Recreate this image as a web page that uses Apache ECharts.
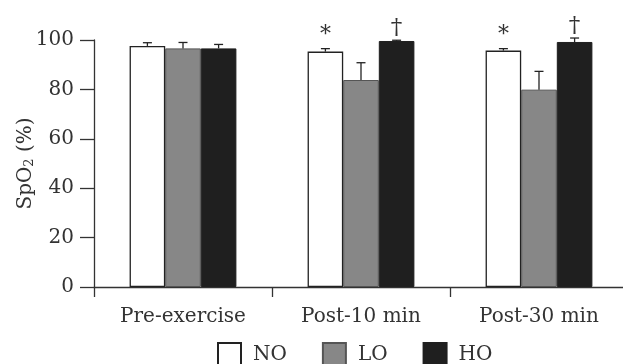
<!DOCTYPE html>
<html>
<head>
<meta charset="utf-8">
<script src="https://cdn.jsdelivr.net/npm/echarts@6/dist/echarts.min.js"></script>
<style>
html,body{margin:0;padding:0;background:#fff;}
#chart{width:623px;height:364px;}
</style>
</head>
<body>
<div id="chart"></div>
<script>
const categories = ['Pre-exercise', 'Post-10 min', 'Post-30 min'];
const seriesNames = ['NO', 'LO', 'HO'];
const noValues = [97.6, 95.3, 95.7];
const loValues = [96.6, 83.8, 79.9];
const hoValues = [96.6, 99.6, 99.2];
const noErr = [1.3, 1.2, 0.8];
const loErr = [2.4, 7.0, 7.4];
const hoErr = [1.6, 0.3, 1.6];
const noSig = ['', '*', '*'];
const loSig = ['', '', ''];
const hoSig = ['', '†', '†'];
const yTicks = [0, 20, 40, 60, 80, 100];

const FONT = 'DejaVu Serif';
const TXT = '#333';
const values = [noValues, loValues, hoValues];
const errs = [noErr, loErr, hoErr];
const sigs = [noSig, loSig, hoSig];
const colors = ['#ffffff', '#878787', '#1f1f1f'];
const borders = ['#222222', '#555555', '#1f1f1f'];
const CAT_GAP = 0.4;

const errData = [];
for (let s = 0; s < 3; s++) {
  for (let i = 0; i < categories.length; i++) {
    errData.push([i, s, values[s][i], errs[s][i]]);
  }
}

function renderErr(params, api) {
  const i = api.value(0), s = api.value(1), v = api.value(2), e = api.value(3);
  const band = api.size([1, 0])[0];
  const barW = band * (1 - CAT_GAP) / 3;
  const base = api.coord([i, v]);
  const x = base[0] + (s - 1) * barW;
  const yTop = base[1];
  const yErr = api.coord([i, v + e])[1];
  const children = [
    {type: 'line', shape: {x1: x, y1: yTop, x2: x, y2: yErr}, style: {stroke: '#222', lineWidth: 1.3}},
    {type: 'line', shape: {x1: x - 4.5, y1: yErr, x2: x + 4.5, y2: yErr}, style: {stroke: '#222', lineWidth: 1.3}}
  ];
  const sig = sigs[s][i];
  if (sig) {
    const isStar = sig === '*';
    children.push({
      type: 'text',
      style: {
        text: sig,
        x: x,
        y: isStar ? yErr - 13 : yErr - 12,
        align: 'center',
        verticalAlign: 'middle',
        font: (isStar ? '22px ' : '23px ') + FONT,
        fill: '#333'
      }
    });
  }
  return {type: 'group', children: children};
}

const chart = echarts.init(document.getElementById('chart'), null, {renderer: 'canvas'});
const barSeries = seriesNames.map((n, s) => ({
  name: n,
  type: 'bar',
  data: values[s],
  barGap: '0%',
  barCategoryGap: (CAT_GAP * 100) + '%',
  itemStyle: {color: colors[s], borderColor: borders[s], borderWidth: s === 0 ? 1.3 : 1},
  emphasis: {disabled: true},
  animation: false
}));

chart.setOption({
  animation: false,
  backgroundColor: '#fff',
  grid: {left: 94, right: -5, top: 40, bottom: 77, containLabel: false, outerBoundsMode: 'none'},
  legend: {
    data: seriesNames,
    left: 217,
    top: 342,
    padding: 0,
    icon: 'rect',
    itemWidth: 23,
    itemHeight: 23,
    itemGap: 35,
    textStyle: {fontFamily: FONT, fontSize: 20, color: TXT, padding: [0, 0, 0, 7]}
  },
  xAxis: {
    type: 'category',
    data: categories,
    axisLine: {lineStyle: {color: '#333', width: 1.3}},
    axisTick: {show: true, length: 10, lineStyle: {color: '#333', width: 1.3}},
    axisLabel: {fontFamily: FONT, fontSize: 20, color: TXT, margin: 20},
    splitLine: {show: false}
  },
  yAxis: {
    type: 'value',
    min: yTicks[0],
    max: yTicks[yTicks.length - 1],
    interval: yTicks[1] - yTicks[0],
    name: 'SpO{s|2} (%)',
    nameLocation: 'middle',
    nameGap: 58,
    nameMoveOverlap: false,
    nameRotate: 90,
    nameTextStyle: {
      fontFamily: FONT, fontSize: 20, color: TXT,
      rich: {s: {fontFamily: FONT, fontSize: 13, color: TXT, verticalAlign: 'bottom', padding: [8, 0, 0, 0]}}
    },
    axisLine: {show: true, lineStyle: {color: '#333', width: 1.3}},
    axisTick: {show: true, length: 14, lineStyle: {color: '#333', width: 1.3}},
    axisLabel: {fontFamily: FONT, fontSize: 20, color: TXT, margin: 20},
    splitLine: {show: false}
  },
  series: barSeries.concat([{
    type: 'custom',
    name: 'err',
    renderItem: renderErr,
    data: errData,
    clip: false,
    z: 5,
    silent: true,
    encode: {x: 0, y: 2},
    animation: false
  }])
});
</script>
</body>
</html>
